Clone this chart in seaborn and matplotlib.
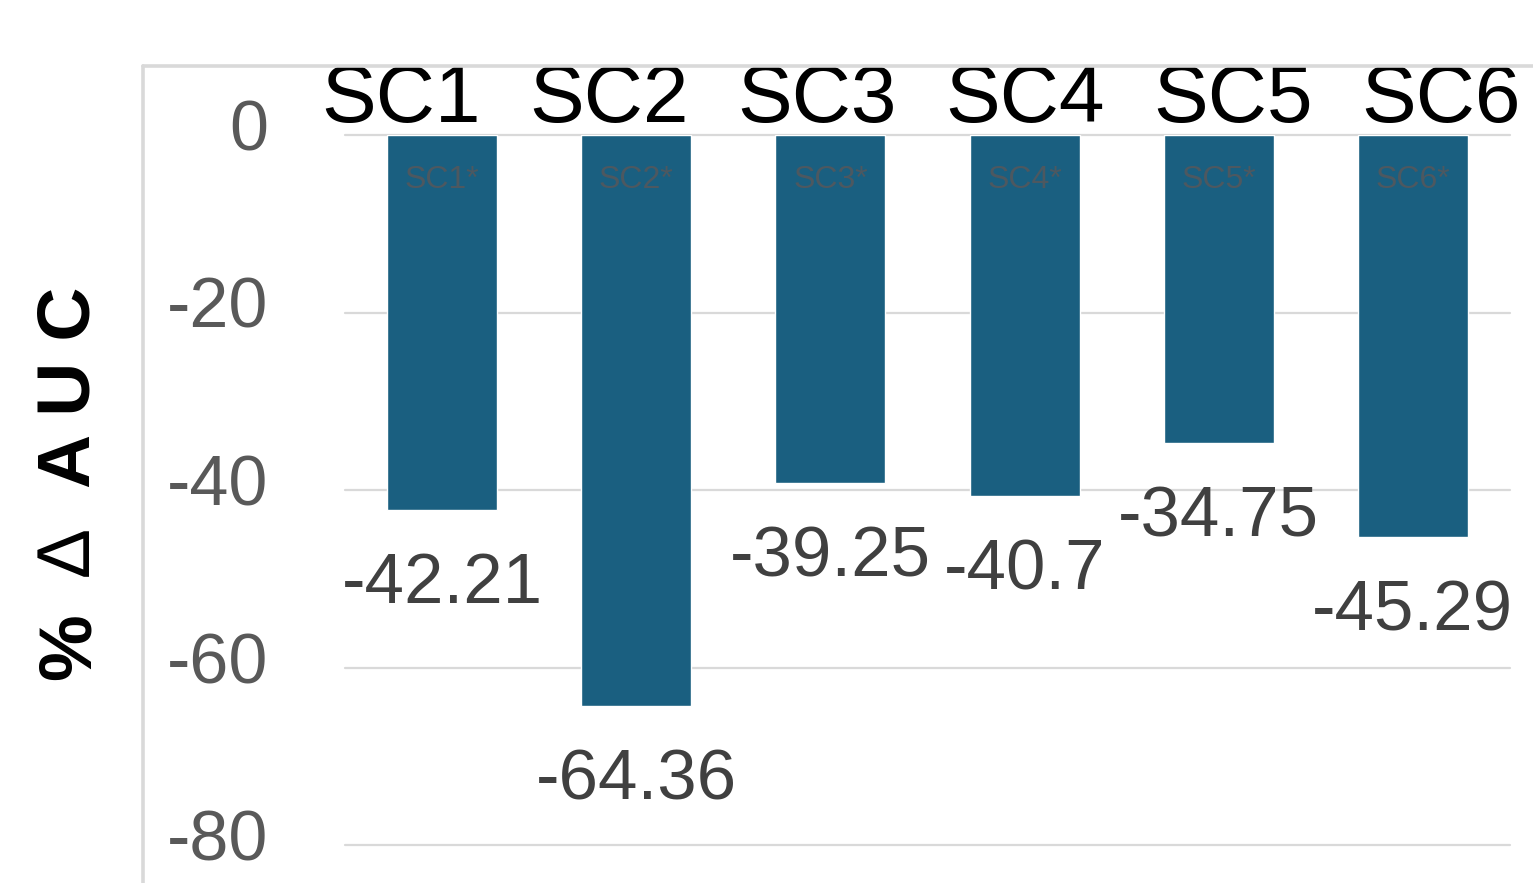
import matplotlib
matplotlib.use("Agg")
import matplotlib.pyplot as plt
from matplotlib.lines import Line2D
from matplotlib.transforms import ScaledTranslation
import seaborn as sns
import pandas as pd

# Scenario results
scenarios = ["SC1", "SC2", "SC3", "SC4", "SC5", "SC6"]
inner_labels = ["SC1*", "SC2*", "SC3*", "SC4*", "SC5*", "SC6*"]
delta_auc = [-42.21, -64.36, -39.25, -40.7, -34.75, -45.29]
y_ticks = [0, -20, -40, -60, -80]

sns.set_theme(style="white")
plt.rcParams["font.family"] = ["Liberation Sans", "DejaVu Sans"]

W, H, DPI = 1533, 883, 100
fig = plt.figure(figsize=(W / DPI, H / DPI), dpi=DPI)
ax = fig.add_axes([345 / W, (H - 845) / H, 1165 / W, 710 / H])

df = pd.DataFrame({"scenario": scenarios, "value": delta_auc})
sns.barplot(data=df, x="scenario", y="value", color="#1a5f80", saturation=1,
            width=0.566, ax=ax, zorder=3)

ax.set_ylim(-80, 0)
ax.set_xlim(-0.5, len(scenarios) - 0.5)
ax.set_yticks(y_ticks)
ax.set_yticklabels([str(t) for t in y_ticks])
ax.yaxis.grid(True, color="#d9d9d9", linewidth=1.6, zorder=0)
ax.set_axisbelow(True)
for sp in ax.spines.values():
    sp.set_visible(False)
ax.tick_params(axis="y", length=0, pad=55, labelsize=50.5, labelcolor="#595959")
ax.set_xticks([])
ax.set_xlabel("")
ax.set_ylabel("")

# lift the y tick labels slightly above their gridlines
lift = ScaledTranslation(0, 0.10, fig.dpi_scale_trans)
for tick in ax.yaxis.get_major_ticks():
    tick.label1.set_transform(tick.label1.get_transform() + lift)
    tick.label1.set_clip_on(False)
for gl in ax.get_ygridlines():
    gl.set_clip_on(False)

# Header row of scenario names, spread a little wider than the bars
n = len(scenarios)
head_mid, head_step = 2.466, 1.071
for i, name in enumerate(scenarios):
    ax.annotate(name, xy=(head_mid + head_step * (i - (n - 1) / 2), 1),
                xycoords=("data", "axes fraction"),
                xytext=(0, 9.5), textcoords="offset points",
                ha="center", va="baseline", fontsize=59, color="black",
                annotation_clip=False)

# Small tags inside the bars and values under the bars
for i, (tag, v) in enumerate(zip(inner_labels, delta_auc)):
    ax.annotate(tag, xy=(i, 0), xytext=(0, -38), textcoords="offset points",
                ha="center", va="baseline", fontsize=23, color="#4d5860",
                zorder=5)
    ax.annotate(f"{v:g}", xy=(i, v), xytext=(0, -67), textcoords="offset points",
                ha="center", va="baseline", fontsize=51, color="#404040",
                annotation_clip=False)

# Y axis title: bold percent and letters, plain-weight delta
xt = 70 / W
fig.text(xt, 1 - 647 / H, "%", rotation=90, ha="center", va="center",
         fontsize=54, fontweight="bold", color="black")
fig.text(xt, 1 - 553 / H, "∆", rotation=90, ha="center", va="center",
         fontsize=54, fontweight="normal", color="black")
fig.text(xt, 1 - 387 / H, "A U C", rotation=90, ha="center", va="center",
         fontsize=54, fontweight="bold", color="black")

# Outer chart frame (left and top edges)
frame_kw = dict(color="#d9d9d9", linewidth=2.6, transform=fig.transFigure)
fig.add_artist(Line2D([143 / W, 143 / W], [0, 1 - 66 / H], **frame_kw))
fig.add_artist(Line2D([143 / W, 1], [1 - 66 / H, 1 - 66 / H], **frame_kw))

fig.savefig("out.png", dpi=DPI)
